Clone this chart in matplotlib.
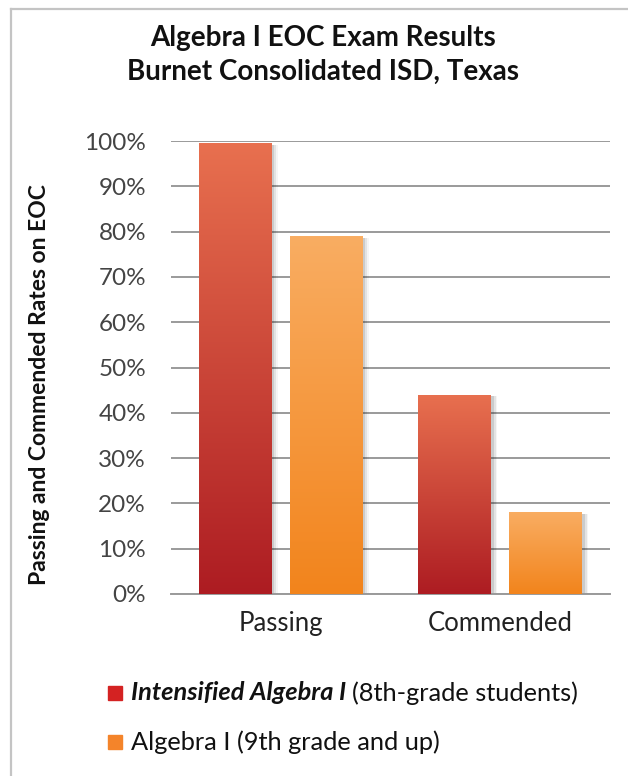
import numpy as np
import matplotlib.pyplot as plt
from matplotlib.patches import Rectangle
from matplotlib.lines import Line2D
from matplotlib.colors import LinearSegmentedColormap

plt.rcParams['font.family'] = ['Lato', 'DejaVu Sans']

categories = ["Passing", "Commended"]
intensified = [99.5, 44]
regular = [79, 18]
yticks = [0, 10, 20, 30, 40, 50, 60, 70, 80, 90, 100]

red_top, red_bot = "#e8704f", "#ad1c22"
org_top, org_bot = "#f9ad62", "#f2841c"

fig = plt.figure(figsize=(6.28, 7.76), dpi=100)
ax = fig.add_axes([171/628, 1 - 594/776, 439/628, 453/776])

x = np.arange(len(categories))
width = 0.332
off = 0.207


def grad_bars(xs, vals, top, bot):
    cmap = LinearSegmentedColormap.from_list("g", [bot, top])
    bars = ax.bar(xs, vals, width, color="none", zorder=3)
    for b in bars:
        bx, by = b.get_x(), b.get_y()
        w, h = b.get_width(), b.get_height()
        # soft shadow on the right
        for i, a in enumerate([0.10, 0.07, 0.04]):
            ax.add_patch(Rectangle((bx + 0.012 + i * 0.008, by), w, h - 0.4,
                                 color="#000000", alpha=a, lw=0, zorder=2))
        ax.add_patch(Rectangle((bx, by), w, h, color="white", lw=0, zorder=2.5))
        img = np.linspace(0, 1, 256).reshape(-1, 1)
        im = ax.imshow(img, cmap=cmap, aspect="auto", origin="lower",
                       extent=[bx, bx + w, by, by + h], zorder=3)
        im.set_clip_path(b)
    return bars


grad_bars(x - off, intensified, red_top, red_bot)
grad_bars(x + off, regular, org_top, org_bot)

ax.set_xlim(-0.5, 1.5)
ax.set_ylim(0, 100)
ax.set_yticks(yticks)
ax.set_yticklabels([f"{v}%" for v in yticks], color="#444444", fontsize=17.5)
ax.set_xticks(x)
ax.set_xticklabels(categories, fontsize=18.5, color="#222222")
ax.tick_params(axis="y", length=0, pad=18)
ax.tick_params(axis="x", length=0, pad=12)
ax.grid(axis="y", color="#9a9a9a", lw=1.4, zorder=1)
ax.set_axisbelow(True)
for s in ["left", "right", "top"]:
    ax.spines[s].set_visible(False)
ax.spines["bottom"].set_color("#9a9a9a")
ax.spines["bottom"].set_linewidth(1.4)

fig.text(323/628, 1 - 38/776, "Algebra I EOC Exam Results", ha="center",
         va="center", fontsize=20, fontweight="bold", color="#111111")
fig.text(323/628, 1 - 72/776, "Burnet Consolidated ISD, Texas", ha="center",
         va="center", fontsize=20, fontweight="bold", color="#111111")
fig.text(40/628, 1 - 385/776, "Passing and Commended Rates on EOC",
         rotation=90, ha="center", va="center", fontsize=16.5,
         fontweight="bold", color="#111111")

# legend built by hand (mixed font styles)
fig.patches.append(Rectangle((108/628, 1 - 700/776), 14/628, 14/776,
                             color="#d42222", transform=fig.transFigure))
fig.patches.append(Rectangle((108/628, 1 - 749/776), 14/628, 14/776,
                             color="#f4842a", transform=fig.transFigure))
t1 = fig.text(131/628, 1 - 693/776, "Intensified Algebra I", ha="left",
              va="center", fontsize=18.3, fontweight="bold", style="italic",
              color="#111111")
fig.canvas.draw()
bb = t1.get_window_extent(fig.canvas.get_renderer())
fig.text(bb.x1 / 628 + 6/628, 1 - 693/776, "(8th-grade students)", ha="left",
         va="center", fontsize=18.3, color="#111111")
fig.text(131/628, 1 - 742/776, "Algebra I (9th grade and up)", ha="left",
         va="center", fontsize=18.3, color="#111111")

# frame lines on left and top
fig.lines.append(Line2D([11/628, 11/628], [0, 1 - 9/776], color="#c4c4c4",
                        lw=1.6, transform=fig.transFigure))
fig.lines.append(Line2D([11/628, 1], [1 - 9/776, 1 - 9/776], color="#c4c4c4",
                        lw=1.6, transform=fig.transFigure))

fig.savefig("out.png", dpi=100)
